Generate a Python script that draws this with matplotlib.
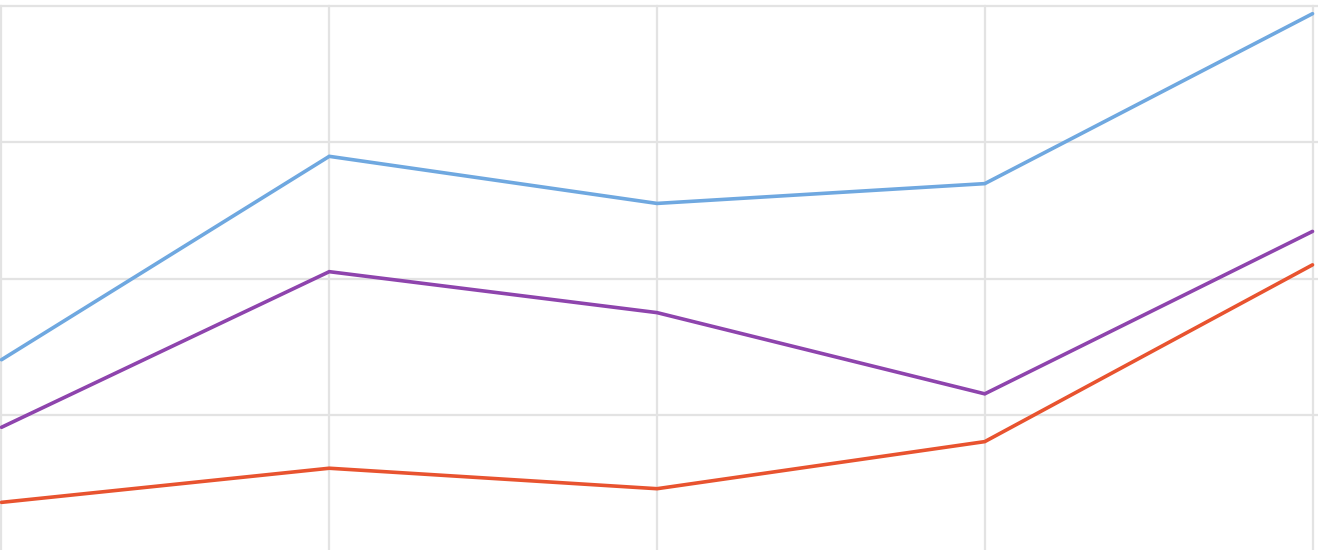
import matplotlib
matplotlib.use("Agg")
import matplotlib.pyplot as plt

categories = [0, 1, 2, 3, 4]
blue = [28.1, 57.9, 51.0, 53.9, 78.8]
purple = [18.2, 41.0, 35.0, 23.1, 46.9]
red = [7.2, 12.2, 9.2, 16.1, 42.0]
yticks = [0, 20, 40, 60, 80]

W, H = 1318, 550
fig = plt.figure(figsize=(W / 100, H / 100), dpi=100)
bottom = 1 - 551.5 / H
top = 1 - 5.5 / H
ax = fig.add_axes([0, bottom, 1, top - bottom])
px = 328.0
ax.set_xlim(-1.5 / px, 4 + 5.5 / px)
ax.set_ylim(0, 80)
ax.set_xticks(categories)
ax.set_yticks(yticks)
ax.grid(True, color="#e3e3e3", linewidth=1.6)
for gl in ax.get_xgridlines() + ax.get_ygridlines():
    gl.set_clip_on(False)
ax.tick_params(length=0, labelleft=False, labelbottom=False)
for s in ax.spines.values():
    s.set_visible(False)
ax.set_axisbelow(True)

for vals, col in [(blue, "#6fa8e0"), (purple, "#8e44ad"), (red, "#e8532f")]:
    ax.plot(categories, vals, color=col, linewidth=2.6, clip_on=False,
            solid_joinstyle="miter", solid_capstyle="round")

fig.savefig("out.png", dpi=100)
